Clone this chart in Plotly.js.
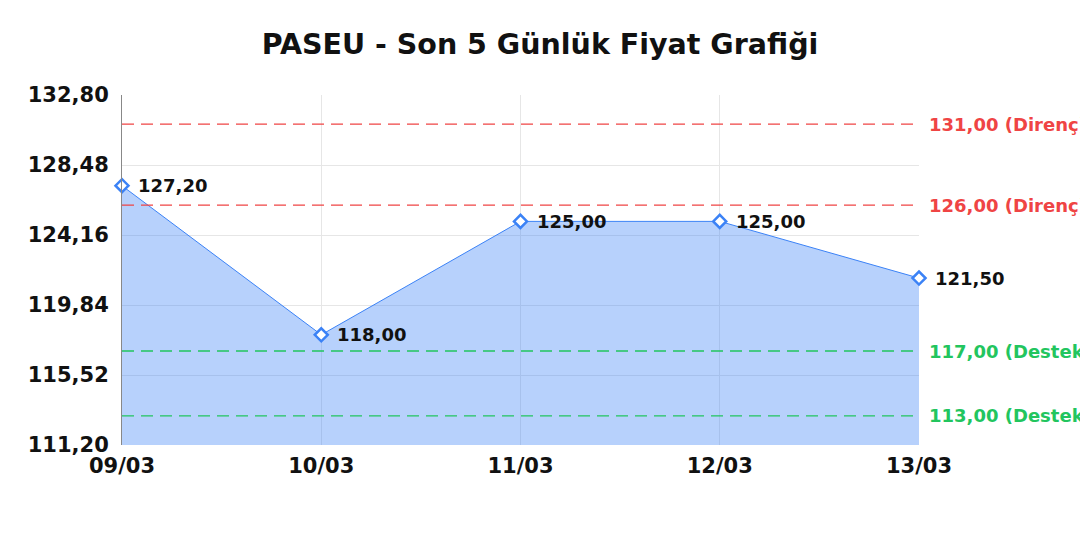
<!DOCTYPE html>
<html>
<head>
<meta charset="utf-8">
<script src="https://cdn.plot.ly/plotly-3.0.1.min.js"></script>
<style>
  html, body { margin: 0; padding: 0; background: #fff; }
  #chart { width: 1080px; height: 540px; }
</style>
</head>
<body>
<div id="chart"></div>
<script>
// Chart data.
const days = [ '09/03', '10/03', '11/03', '12/03', '13/03' ];
const prices = [ 127.20, 118.00, 125.00, 125.00, 121.50 ];
const resistanceLevels = [ 131.00, 126.00 ];
const supportLevels = [ 117.00, 113.00 ];
const yTicks = [ 111.20, 115.52, 119.84, 124.16, 128.48, 132.80 ];

const font = 'DejaVu Sans, sans-serif';
const blue = '#3b82f6';
const red = '#ef4444';
const green = '#22c55e';

const fmt = value => value.toFixed(2).replace('.', ',');

const levelLine = (value, color) => ({
    type: 'line',
    xref: 'paper',
    x0: 0,
    x1: 1,
    yref: 'y',
    y0: value,
    y1: value,
    line: { color, width: 1.3, dash: '12px,7px' },
    layer: 'above',
});

// Level labels run past the right edge, as in the original.
const levelLabel = (value, color, word) => ({
    xref: 'paper',
    x: 1,
    xanchor: 'left',
    xshift: 8,
    yref: 'y',
    y: value,
    yanchor: 'middle',
    showarrow: false,
    text: `${fmt(value)} (${word})`,
    font: { family: font, size: 18, color, weight: 'bold' },
});

const priceLabels = days.map((day, index) => ({
    x: index,
    y: prices[index],
    xref: 'x',
    yref: 'y',
    xanchor: 'left',
    yanchor: 'middle',
    xshift: 14,
    showarrow: false,
    text: fmt(prices[index]),
    font: { family: font, size: 18, color: '#111', weight: 'bold' },
}));

const trace = {
    x: days.map((day, index) => index),
    y: prices,
    type: 'scatter',
    mode: 'lines+markers',
    fill: 'tozeroy',
    fillcolor: 'rgba(59,130,246,0.37)',
    line: { color: blue, width: 1 },
    marker: { symbol: 'diamond', size: 10, color: '#fff', line: { width: 2.5, color: blue } },
    hoverinfo: 'skip',
    cliponaxis: false,
};

const layout = {
    width: 1080,
    height: 540,
    margin: { l: 122, r: 161, t: 95, b: 95 },
    paper_bgcolor: '#fff',
    plot_bgcolor: '#fff',
    showlegend: false,
    title: {
        text: 'PASEU - Son 5 Günlük Fiyat Grafiği',
        x: 0.5,
        xanchor: 'center',
        y: 0.918,
        yanchor: 'middle',
        font: { family: font, size: 28.5, color: '#111', weight: 'bold' },
    },
    xaxis: {
        range: [ 0, days.length - 1 ],
        tickvals: days.map((day, index) => index),
        ticktext: days,
        showgrid: true,
        gridcolor: '#e6e6e6',
        zeroline: false,
        showline: false,
        ticks: '',
        ticklabelstandoff: 6,
        tickfont: { family: font, size: 21, color: '#111', weight: 'bold' },
    },
    yaxis: {
        range: [ yTicks[0], yTicks[yTicks.length - 1] ],
        tickvals: yTicks,
        ticktext: yTicks.map(fmt),
        showgrid: true,
        gridcolor: '#e6e6e6',
        zeroline: false,
        showline: true,
        linecolor: '#888',
        linewidth: 1,
        ticks: '',
        ticklabelstandoff: 8,
        tickfont: { family: font, size: 21, color: '#111', weight: 'bold' },
    },
    shapes: [
        ...resistanceLevels.map(value => levelLine(value, red)),
        ...supportLevels.map(value => levelLine(value, green)),
    ],
    annotations: [
        ...resistanceLevels.map(value => levelLabel(value, red, 'Direnç')),
        ...supportLevels.map(value => levelLabel(value, green, 'Destek')),
        ...priceLabels,
    ],
};

Plotly.newPlot('chart', [ trace ], layout, { displayModeBar: false, staticPlot: true });
</script>
</body>
</html>
